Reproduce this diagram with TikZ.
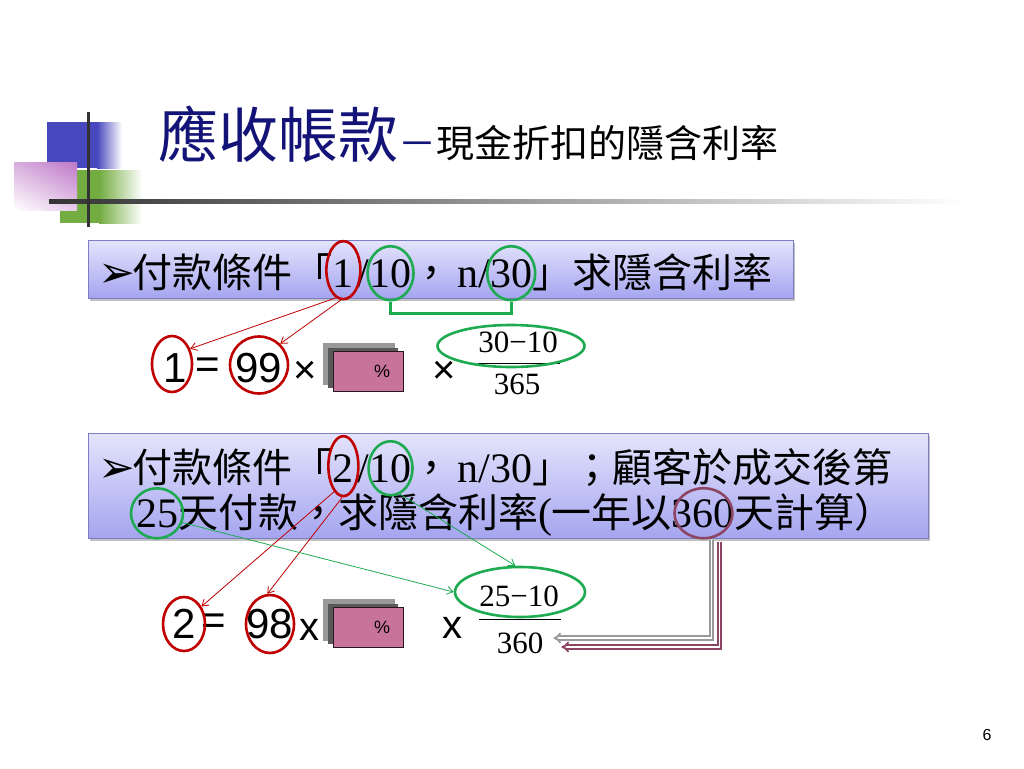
\documentclass[tikz,border=0pt]{standalone}
\usepackage{fontspec}
\setmainfont{Liberation Serif}
\newfontfamily\cjk{Noto Sans CJK TC}
\newfontfamily\arial{Liberation Sans}
\newfontfamily\dvs{DejaVu Sans}
\usetikzlibrary{arrows.meta,positioning,calc,shapes.geometric,shadows,shadings}

\definecolor{titleblue}{RGB}{20,20,120}
\definecolor{ringred}{RGB}{192,0,0}
\definecolor{ringgreen}{RGB}{30,170,80}
\definecolor{mauve}{RGB}{140,70,100}
\definecolor{boxpink}{RGB}{200,115,155}
\definecolor{lavtop}{RGB}{228,228,252}
\definecolor{lavbot}{RGB}{165,165,240}
\definecolor{lavedge}{RGB}{125,125,195}
\definecolor{sqblue}{RGB}{72,72,190}
\definecolor{sqgreen}{RGB}{115,172,65}
\definecolor{sqpurple}{RGB}{190,120,200}

\newcommand{\bodyfont}{\fontsize{42}{48}\selectfont}
\newcommand{\zh}{\cjk\fontsize{40}{48}\selectfont}
\newcommand{\eqfont}{\arial\fontsize{42}{50}\selectfont}
\newcommand{\fracfont}{\fontsize{31}{36}\selectfont}
\newcommand{\bul}{{\dvs\fontsize{44}{48}\selectfont ➢}\hspace{-2pt}}

\tikzset{
  txt/.style={inner sep=0pt, outer sep=0pt, anchor=base west, font=\bodyfont},
  eqtxt/.style={inner sep=0pt, font=\eqfont},
  timesign/.style={inner sep=0pt, font=\arial\fontsize{40}{44}\selectfont},
  fractxt/.style={inner sep=0pt, font=\fracfont},
  fracbar/.style={line width=1.2pt},
  ring/.style={ellipse, draw, line width=2.6pt, inner sep=0pt},
  redring/.style={ring, draw=ringred},
  greenring/.style={ring, draw=ringgreen},
  mauvering/.style={ring, draw=mauve},
  redarr/.style={draw=ringred, line width=0.8pt, ->},
  greenarr/.style={draw=ringgreen, line width=0.8pt, ->},
  greenln/.style={draw=ringgreen, line width=3pt},
  panel/.style={draw=lavedge, line width=0.8pt, top color=lavtop, bottom color=lavbot,
    drop shadow={shadow xshift=1.5pt, shadow yshift=-2.5pt, fill=black!40, opacity=.6}},
  pctbox/.style={draw=black!80!boxpink, line width=1pt, fill=boxpink, minimum width=70pt,
    minimum height=40pt, text width=44pt, align=right, inner sep=0pt,
    font=\arial\fontsize{18}{20}\selectfont},
  elbow/.style={draw=mauve, double=white, double distance=1.6pt, line width=1.8pt, -{Implies}},
  elbowshade/.style={elbow, draw=black!40}
}

\begin{document}
\begin{tikzpicture}[x=1pt, y=-1pt, >={Straight Barb[length=6pt,width=8pt]}]
\useasboundingbox (0,0) rectangle (1024,768);
\fill[white] (0,0) rectangle (1024,768);

% title corner
\fill[sqblue] (47,122) rectangle (98,168);
\shade[left color=sqblue, right color=white] (97,122) rectangle (122,168);
\fill[sqgreen] (60,170) rectangle (100,223);
\shade[left color=sqgreen, right color=white] (99,170) rectangle (142,223);
\shade[upper left=sqpurple!60, upper right=sqpurple, lower left=white, lower right=sqpurple!40]
  (14,162) rectangle (77,210);
\shade[left color=black!80, middle color=black!40, right color=white] (49,199) rectangle (965,203);
\draw[line width=3pt, black!80] (88,112) -- (88,227);

\node[anchor=base west, inner sep=0pt, font=\cjk\fontsize{60}{64}\selectfont, text=titleblue]
  (ttl) at (158,157) {應收帳款};
\node[anchor=base west, inner sep=0pt, font=\cjk\fontsize{38}{44}\selectfont]
  (subttl) at (ttl.base east) {{\color{titleblue}－}現金折扣的隱含利率};

% first question
\node[panel, minimum width=705pt, minimum height=58pt] (boxa) at (440.5,269) {};
\node[txt] (la) at (98,287) {\bul\zh 付款條件「};
\node[txt] (lone) at (la.base east) {1};
\node[txt] (lslash) at (lone.base east) {\hspace{4pt}/\hspace{4pt}};
\node[txt] (lten) at (lslash.base east) {10};
\node[txt] (lmid) at (lten.base east) {{\zh ，}\hspace{6pt}n/};
\node[txt] (lthirty) at (lmid.base east) {30};
\node[txt] (lend) at (lthirty.base east) {\zh 」求隱含利率};

\node[redring, minimum width=34pt, minimum height=58pt] (rone) at ($(lone.center)+(0,-3)$) {};
\node[greenring, minimum width=46pt, minimum height=54pt] (gten) at (lten.center) {};
\node[greenring, minimum width=48pt, minimum height=54pt] (gthirty) at (lthirty.center) {};
\draw[greenln] (gten.south) -- ++(0,12) -| (gthirty.south);

% first equation
\node[eqtxt] (qone) at (175,368) {1};
\node[eqtxt] (qeq) at (208,368) {=};
\node[eqtxt] (qnn) at (259,368) {99};
\node[timesign] (qxa) at (305,372) {×};
\fill[black!40] ($(368,371)+(-45,-28)$) rectangle ($(368,371)+(27,14)$);
\fill[black!65] ($(368,371)+(-40,-23)$) rectangle ($(368,371)+(30,17)$);
\node[pctbox] (pcta) at (368,371) {\%};
\node[timesign] (qxb) at (444,372) {×};
\node[fractxt] (qtop) at (518,342) {30−10};
\node[fractxt] (qbot) at (517,384) {365};
\draw[fracbar] ($(qtop.south west)+(0,11)$) -- ($(qtop.south east)+(2,11)$);
\node[greenring, minimum width=147pt, minimum height=42pt] (gfraca) at ($(qtop.center)+(-7,4)$) {};

\node[redring, minimum width=40pt, minimum height=56pt] (rqone) at ($(qone.center)+(-3,-4)$) {};
\node[redring, minimum width=58pt, minimum height=57pt] (rqnn) at ($(qnn.center)+(0,-3)$) {};
\draw[redarr] (rone.255) -- (rqone.40);
\draw[redarr] (rone.265) -- (rqnn.45);

% second question
\node[panel, minimum width=840pt, minimum height=105pt] (boxb) at (508,485.5) {};
\node[txt] (ma) at (98,482) {\bul\zh 付款條件「};
\node[txt] (mtwo) at (ma.base east) {2};
\node[txt] (mslash) at (mtwo.base east) {\hspace{4pt}/\hspace{4pt}};
\node[txt] (mten) at (mslash.base east) {10};
\node[txt] (mrest) at (mten.base east) {{\zh ，}\hspace{6pt}n/30{\zh 」；顧客於成交後第}};
\node[txt] (ntf) at (136,527) {25};
\node[txt] (nmid) at (ntf.base east) {{\zh 天付款，求隱含利率}({\zh 一年以}};
\node[txt] (nthree) at (nmid.base east) {360};
\node[txt] (nend) at (nthree.base east) {\zh 天計算）};

\node[redring, minimum width=30pt, minimum height=60pt] (rtwo) at ($(mtwo.center)+(0,-2)$) {};
\node[greenring, minimum width=44pt, minimum height=54pt] (gtenb) at (mten.center) {};
\node[greenring, minimum width=52pt, minimum height=50pt] (gtf) at (ntf.center) {};
\node[mauvering, minimum width=58pt, minimum height=50pt] (mthree) at (nthree.center) {};

% second equation
\node[eqtxt] (qtwo) at (184,624) {2};
\node[eqtxt] (qeqb) at (214,624) {=};
\node[eqtxt] (qne) at (270,624) {98};
\node[timesign] (qxc) at (309,630) {x};
\fill[black!40] ($(368,627)+(-45,-28)$) rectangle ($(368,627)+(27,14)$);
\fill[black!65] ($(368,627)+(-40,-23)$) rectangle ($(368,627)+(30,17)$);
\node[pctbox] (pctb) at (368,627) {\%};
\node[timesign] (qxd) at (452,628) {x};
\node[fractxt] (qtopb) at (519,596) {25−10};
\node[fractxt] (qbotb) at (520,643) {360};
\draw[fracbar] ($(qtopb.south west)+(0,13)$) -- ($(qtopb.south east)+(2,13)$);
\node[greenring, minimum width=130pt, minimum height=50pt] (gfracb) at ($(qtopb.center)+(1,-4)$) {};

\node[redring, minimum width=42pt, minimum height=54pt] (rqtwo) at (qtwo.center) {};
\node[redring, minimum width=48pt, minimum height=58pt] (rqne) at (qne.center) {};
\draw[redarr] (rtwo.250) -- (rqtwo.45);
\draw[redarr] (rtwo.268) -- (rqne.95);
\draw[greenarr] (gtenb.290) -- (gfracb.100);
\draw[greenarr] (gtf.-20) -- (gfracb.west);

\coordinate (elbowtop) at ($(mthree.south)+(16,2)$);
\coordinate (elbowend) at ($(qbotb.east)+(18,4)$);
\draw[elbowshade] ($(elbowtop)+(-8,-2)$) |- ($(elbowend)+(-8,-9)$);
\draw[elbow] (elbowtop) |- (elbowend);

\node[font=\arial\fontsize{16}{18}\selectfont, inner sep=0pt] (pg) at (987,735) {6};
\end{tikzpicture}
\end{document}
